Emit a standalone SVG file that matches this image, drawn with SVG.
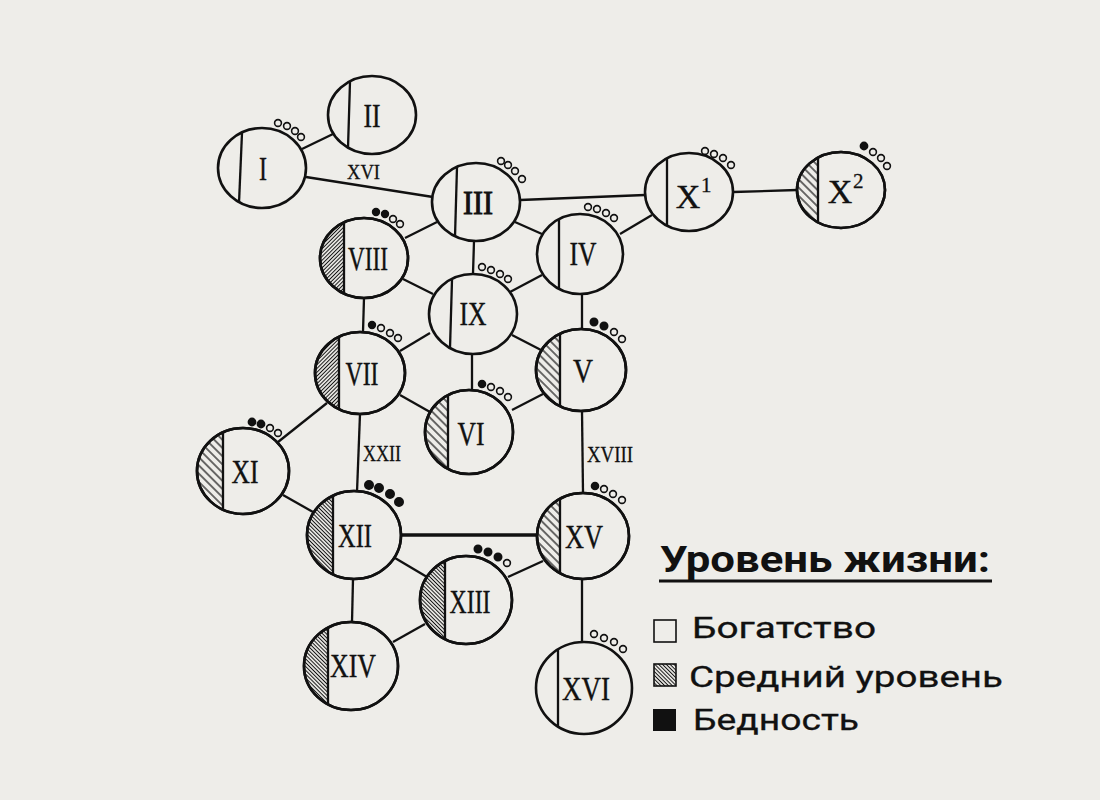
<svg xmlns="http://www.w3.org/2000/svg" width="1100" height="800" viewBox="0 0 1100 800">
<style>
.bg{fill:#eeede9}
.node{fill:#eeede9;stroke:#111;stroke-width:2.6}
.div{stroke:#111;stroke-width:2.3;fill:none}
.edge{stroke:#111;stroke-width:2.3;fill:none}
.lbl{font-family:"Liberation Serif","DejaVu Serif",serif;font-size:34px;fill:#111;stroke:#111;stroke-width:0.4;text-anchor:middle}
.elbl{font-family:"Liberation Serif","DejaVu Serif",serif;font-size:24px;fill:#111;stroke:#111;stroke-width:0.3}
.sup{font-family:"Liberation Serif","DejaVu Serif",serif;font-size:21px;fill:#111;stroke:#111;stroke-width:0.3}
.o{fill:#eeede9;stroke:#111;stroke-width:1.6}
.f{fill:#111;stroke:#111;stroke-width:1.6}
.hs{fill:none;stroke:#111;stroke-width:2.6}
.leg{font-family:Roboto,"Liberation Sans",sans-serif;font-size:29px;fill:#111;stroke:#111;stroke-width:0.3}
</style>
<defs>
<pattern id="du" width="8" height="2.7" patternUnits="userSpaceOnUse" patternTransform="rotate(-45)"><line x1="0" y1="1.35" x2="8" y2="1.35" stroke="#111" stroke-width="1"/></pattern>
<pattern id="dd" width="8" height="2.7" patternUnits="userSpaceOnUse" patternTransform="rotate(45)"><line x1="0" y1="1.35" x2="8" y2="1.35" stroke="#111" stroke-width="1"/></pattern>
<pattern id="sd" width="8" height="5.8" patternUnits="userSpaceOnUse" patternTransform="rotate(45)"><line x1="0" y1="2.9" x2="8" y2="2.9" stroke="#111" stroke-width="1.2"/></pattern>
</defs>
<rect class="bg" x="0" y="0" width="1100" height="800"/>
<g id="connectors">
<line class="edge" x1="302" y1="149" x2="333" y2="134"/>
<line class="edge" x1="306" y1="177" x2="433" y2="197"/>
<line class="edge" x1="520" y1="200" x2="645" y2="195"/>
<line class="edge" x1="733" y1="192" x2="797" y2="190"/>
<line class="edge" x1="437" y1="222" x2="405" y2="238"/>
<line class="edge" x1="515" y1="222" x2="542" y2="234"/>
<line class="edge" x1="474" y1="241" x2="473" y2="274"/>
<line class="edge" x1="620" y1="234" x2="652" y2="215"/>
<line class="edge" x1="403" y1="279" x2="433" y2="294"/>
<line class="edge" x1="542" y1="275" x2="510" y2="292"/>
<line class="edge" x1="364" y1="298" x2="363" y2="332"/>
<line class="edge" x1="582" y1="294" x2="582" y2="329"/>
<line class="edge" x1="430" y1="333" x2="400" y2="351"/>
<line class="edge" x1="512" y1="335" x2="541" y2="350"/>
<line class="edge" x1="472" y1="354" x2="472" y2="390"/>
<line class="edge" x1="400" y1="395" x2="430" y2="412"/>
<line class="edge" x1="512" y1="410" x2="543" y2="394"/>
<line class="edge" x1="327" y1="403" x2="278" y2="442"/>
<line class="edge" x1="360" y1="414" x2="357" y2="492"/>
<line class="edge" x1="582" y1="411" x2="583" y2="493"/>
<line class="edge" x1="283" y1="495" x2="313" y2="512"/>
<line class="edge" x1="401" y1="535" x2="537" y2="535" style="stroke-width:3.6"/>
<line class="edge" x1="395" y1="558" x2="427" y2="577"/>
<line class="edge" x1="508" y1="577" x2="543" y2="561"/>
<line class="edge" x1="353" y1="579" x2="352" y2="622"/>
<line class="edge" x1="393" y1="642" x2="425" y2="624"/>
<line class="edge" x1="582" y1="579" x2="582" y2="642"/>
<text class="elbl" x="347" y="179" textLength="33" lengthAdjust="spacingAndGlyphs" style="font-size:22px">XVI</text>
<text class="elbl" x="363" y="461" textLength="38" lengthAdjust="spacingAndGlyphs">XXII</text>
<text class="elbl" x="587" y="462" textLength="46" lengthAdjust="spacingAndGlyphs">XVIII</text>
</g>
<g id="n1">
<ellipse class="node" cx="262" cy="168" rx="44" ry="40"/>
<line class="div" x1="242" y1="133" x2="239" y2="203"/>
<text class="lbl" x="263" y="180" textLength="8" lengthAdjust="spacingAndGlyphs">I</text>
<circle class="o" cx="278" cy="123" r="3.4"/><circle class="o" cx="287" cy="126" r="3.4"/><circle class="o" cx="295" cy="131" r="3.4"/><circle class="o" cx="301" cy="137" r="3.4"/>
</g>
<g id="n2">
<ellipse class="node" cx="372" cy="115" rx="44" ry="39"/>
<line class="div" x1="350" y1="82" x2="348" y2="148"/>
<text class="lbl" x="372" y="127" textLength="17" lengthAdjust="spacingAndGlyphs">II</text>
</g>
<g id="n3">
<ellipse class="node" cx="476" cy="202" rx="44" ry="39"/>
<line class="div" x1="457" y1="167" x2="455" y2="237"/>
<text class="lbl" x="478" y="214" textLength="30" lengthAdjust="spacingAndGlyphs" style="stroke-width:1">III</text>
<circle class="o" cx="501" cy="161" r="3.4"/><circle class="o" cx="508" cy="165" r="3.4"/><circle class="o" cx="515" cy="171" r="3.4"/><circle class="o" cx="522" cy="179" r="3.4"/>
</g>
<g id="n8">
<ellipse class="node" cx="364" cy="258" rx="44" ry="40"/>
<path d="M344,222.4 A44,40 0 0 0 344,293.6 Z" fill="url(#du)"/>
<ellipse class="hs" cx="364" cy="258" rx="44" ry="40"/>
<line class="div" x1="344" y1="222" x2="344" y2="294"/>
<text class="lbl" x="368" y="270" textLength="40" lengthAdjust="spacingAndGlyphs">VIII</text>
<circle class="f" cx="376" cy="212" r="3.4"/><circle class="f" cx="385" cy="214" r="3.4"/><circle class="o" cx="393" cy="219" r="3.4"/><circle class="o" cx="400" cy="224" r="3.4"/>
</g>
<g id="n4">
<ellipse class="node" cx="580" cy="254" rx="43" ry="40"/>
<line class="div" x1="559" y1="219" x2="559" y2="289"/>
<text class="lbl" x="583" y="265" textLength="27" lengthAdjust="spacingAndGlyphs">IV</text>
<circle class="o" cx="588" cy="207" r="3.4"/><circle class="o" cx="597" cy="209" r="3.4"/><circle class="o" cx="606" cy="213" r="3.4"/><circle class="o" cx="614" cy="218" r="3.4"/>
</g>
<g id="n9">
<ellipse class="node" cx="473" cy="314" rx="44" ry="40"/>
<line class="div" x1="452" y1="280" x2="450" y2="348"/>
<text class="lbl" x="473" y="325" textLength="27" lengthAdjust="spacingAndGlyphs">IX</text>
<circle class="o" cx="482" cy="267" r="3.4"/><circle class="o" cx="491" cy="270" r="3.4"/><circle class="o" cx="500" cy="274" r="3.4"/><circle class="o" cx="508" cy="279" r="3.4"/>
</g>
<g id="n10a">
<ellipse class="node" cx="689" cy="192" rx="44" ry="39"/>
<line class="div" x1="667" y1="158" x2="667" y2="226"/>
<text class="lbl" x="688" y="208">X</text>
<text class="sup" x="701" y="192">1</text>
<circle class="o" cx="705" cy="151" r="3.4"/><circle class="o" cx="714" cy="154" r="3.4"/><circle class="o" cx="723" cy="158" r="3.4"/><circle class="o" cx="731" cy="165" r="3.4"/>
</g>
<g id="n10b">
<ellipse class="node" cx="841" cy="190" rx="44" ry="38"/>
<path d="M818,157.6 A44,38 0 0 0 818,222.4 Z" fill="url(#sd)"/>
<ellipse class="hs" cx="841" cy="190" rx="44" ry="38"/>
<line class="div" x1="818" y1="158" x2="818" y2="222"/>
<text class="lbl" x="840" y="203">X</text>
<text class="sup" x="853" y="188">2</text>
<circle class="f" cx="864" cy="146" r="3.6"/><circle class="o" cx="873" cy="152" r="3.4"/><circle class="o" cx="881" cy="158" r="3.4"/><circle class="o" cx="887" cy="166" r="3.4"/>
</g>
<g id="n7">
<ellipse class="node" cx="360" cy="373" rx="45" ry="41"/>
<path d="M339,336.7 A45,41 0 0 0 339,409.3 Z" fill="url(#du)"/>
<ellipse class="hs" cx="360" cy="373" rx="45" ry="41"/>
<line class="div" x1="339" y1="337" x2="339" y2="409"/>
<text class="lbl" x="362" y="385" textLength="33" lengthAdjust="spacingAndGlyphs">VII</text>
<circle class="f" cx="372" cy="325" r="3.4"/><circle class="o" cx="381" cy="328" r="3.4"/><circle class="o" cx="390" cy="333" r="3.4"/><circle class="o" cx="398" cy="338" r="3.4"/>
</g>
<g id="n5">
<ellipse class="node" cx="581" cy="370" rx="45" ry="41"/>
<path d="M560,333.7 A45,41 0 0 0 560,406.3 Z" fill="url(#sd)"/>
<ellipse class="hs" cx="581" cy="370" rx="45" ry="41"/>
<line class="div" x1="560" y1="334" x2="560" y2="406"/>
<text class="lbl" x="583" y="382" textLength="20" lengthAdjust="spacingAndGlyphs">V</text>
<circle class="f" cx="594" cy="322" r="3.7"/><circle class="f" cx="604" cy="326" r="3.7"/><circle class="o" cx="614" cy="332" r="3.4"/><circle class="o" cx="622" cy="339" r="3.4"/>
</g>
<g id="n6">
<ellipse class="node" cx="469" cy="432" rx="44" ry="42"/>
<path d="M448,395.1 A44,42 0 0 0 448,468.9 Z" fill="url(#sd)"/>
<ellipse class="hs" cx="469" cy="432" rx="44" ry="42"/>
<line class="div" x1="448" y1="395" x2="448" y2="469"/>
<text class="lbl" x="471" y="445" textLength="27" lengthAdjust="spacingAndGlyphs">VI</text>
<circle class="f" cx="482" cy="384" r="3.5"/><circle class="o" cx="491" cy="387" r="3.4"/><circle class="o" cx="500" cy="391" r="3.4"/><circle class="o" cx="508" cy="397" r="3.4"/>
</g>
<g id="n11">
<ellipse class="node" cx="243" cy="471" rx="46" ry="43"/>
<path d="M223,432.3 A46,43 0 0 0 223,509.7 Z" fill="url(#sd)"/>
<ellipse class="hs" cx="243" cy="471" rx="46" ry="43"/>
<line class="div" x1="223" y1="432" x2="223" y2="510"/>
<text class="lbl" x="245" y="483" textLength="27" lengthAdjust="spacingAndGlyphs">XI</text>
<circle class="f" cx="252" cy="422" r="3.6"/><circle class="f" cx="261" cy="424" r="3.6"/><circle class="o" cx="270" cy="428" r="3.4"/><circle class="o" cx="278" cy="433" r="3.4"/>
</g>
<g id="n12">
<ellipse class="node" cx="354" cy="535" rx="47" ry="44"/>
<path d="M333,495.6 A47,44 0 0 0 333,574.4 Z" fill="url(#dd)"/>
<ellipse class="hs" cx="354" cy="535" rx="47" ry="44"/>
<line class="div" x1="333" y1="496" x2="333" y2="574"/>
<text class="lbl" x="355" y="547" textLength="34" lengthAdjust="spacingAndGlyphs">XII</text>
<circle class="f" cx="369" cy="485" r="4.2"/><circle class="f" cx="379" cy="488" r="4.2"/><circle class="f" cx="390" cy="494" r="4.2"/><circle class="f" cx="399" cy="502" r="4.2"/>
</g>
<g id="n15">
<ellipse class="node" cx="583" cy="536" rx="46" ry="43"/>
<path d="M560,498.8 A46,43 0 0 0 560,573.2 Z" fill="url(#sd)"/>
<ellipse class="hs" cx="583" cy="536" rx="46" ry="43"/>
<line class="div" x1="560" y1="499" x2="560" y2="573"/>
<text class="lbl" x="584" y="548" textLength="38" lengthAdjust="spacingAndGlyphs">XV</text>
<circle class="f" cx="595" cy="486" r="3.5"/><circle class="o" cx="604" cy="489" r="3.4"/><circle class="o" cx="613" cy="494" r="3.4"/><circle class="o" cx="622" cy="500" r="3.4"/>
</g>
<g id="n13">
<ellipse class="node" cx="466" cy="600" rx="46" ry="44"/>
<path d="M445,560.9 A46,44 0 0 0 445,639.1 Z" fill="url(#dd)"/>
<ellipse class="hs" cx="466" cy="600" rx="46" ry="44"/>
<line class="div" x1="445" y1="561" x2="445" y2="639"/>
<text class="lbl" x="470" y="613" textLength="41" lengthAdjust="spacingAndGlyphs">XIII</text>
<circle class="f" cx="478" cy="549" r="3.7"/><circle class="f" cx="488" cy="552" r="3.7"/><circle class="f" cx="498" cy="557" r="3.7"/><circle class="o" cx="507" cy="563" r="3.4"/>
</g>
<g id="n14">
<ellipse class="node" cx="351" cy="666" rx="47" ry="44"/>
<path d="M328,627.6 A47,44 0 0 0 328,704.4 Z" fill="url(#dd)"/>
<ellipse class="hs" cx="351" cy="666" rx="47" ry="44"/>
<line class="div" x1="328" y1="628" x2="328" y2="704"/>
<text class="lbl" x="353" y="677" textLength="46" lengthAdjust="spacingAndGlyphs">XIV</text>
</g>
<g id="n16">
<ellipse class="node" cx="584" cy="688" rx="48" ry="46"/>
<line class="div" x1="558" y1="649" x2="558" y2="727"/>
<text class="lbl" x="586" y="700" textLength="48" lengthAdjust="spacingAndGlyphs">XVI</text>
<circle class="o" cx="594" cy="634" r="3.4"/><circle class="o" cx="604" cy="638" r="3.4"/><circle class="o" cx="614" cy="642" r="3.4"/><circle class="o" cx="623" cy="649" r="3.4"/>
</g>
<g id="legend">
<text x="660" y="572" textLength="330" lengthAdjust="spacingAndGlyphs" style="font-family:Roboto,'Liberation Sans',sans-serif;font-weight:bold;font-size:37px;fill:#111">Уровень жизни:</text>
<line x1="659" y1="581" x2="992" y2="581" stroke="#111" stroke-width="3"/>
<rect x="654" y="620" width="22" height="22" fill="#eeede9" stroke="#111" stroke-width="1.6"/>
<text class="leg" x="692" y="638" textLength="184" lengthAdjust="spacingAndGlyphs">Богатство</text>
<rect x="654" y="664" width="22" height="22" fill="url(#dd)" stroke="#111" stroke-width="1.6"/>
<text class="leg" x="689" y="687" textLength="314" lengthAdjust="spacingAndGlyphs">Средний уровень</text>
<rect x="653" y="709" width="23" height="22" fill="#111"/>
<text class="leg" x="693" y="730" textLength="166" lengthAdjust="spacingAndGlyphs">Бедность</text>
</g>
</svg>
